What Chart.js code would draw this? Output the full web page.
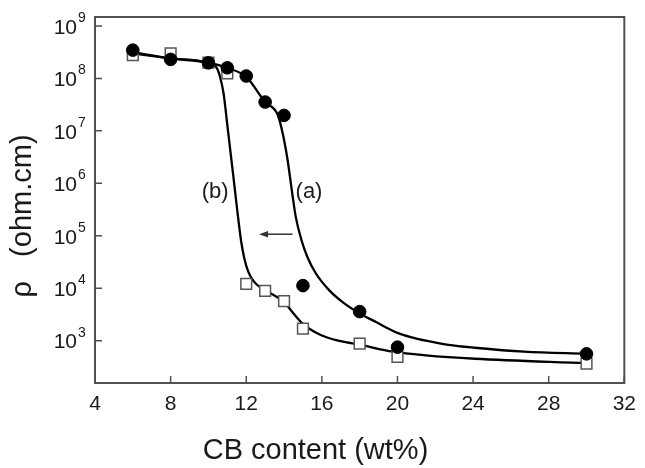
<!DOCTYPE html>
<html><head><meta charset="utf-8">
<script src="https://cdn.jsdelivr.net/npm/chart.js@4.4.1/dist/chart.umd.min.js"></script>
<style>html,body{margin:0;padding:0;background:#fff}#wrap{width:645px;height:468px}</style>
</head><body><div id="wrap"><canvas id="c" width="645" height="468"></canvas></div>
<script>
// ---- data ----
const cbContent = [6, 8, 10, 11, 12, 13, 14, 15, 18, 20, 30];
const rhoA = [3.46e8, 2.3e8, 1.98e8, 1.59e8, 1.11e8, 3.54e7, 1.97e7, 1.12e4, 3.58e3, 752, 561];
const rhoB = [2.78e8, 3.0e8, 2.0e8, 1.25e8, 1.21e4, 8.9e3, 5.7e3, 1.70e3, 881, 491, 366];

// fitted curves
const fitAX = [6, 8, 10, 11, 12, 13, 13.67, 13.93, 14.19, 14.41, 14.62, 14.92, 15.23, 15.67, 16.37, 17.15, 18, 18.89, 19.4, 20, 20.7, 21.5, 22.7, 24.1, 26.7, 30];
const fitAY = [3.16e8, 2.4e8, 2.0e8, 1.58e8, 1.07e8, 3.55e7, 2.0e7, 8.9e6, 2.75e6, 7.4e5, 2.29e5, 8.3e4, 3.98e4, 1.95e4, 9.3e3, 5.25e3, 3.31e3, 2.24e3, 1.78e3, 1.41e3, 1.17e3, 1.0e3, 832, 733, 617, 561];
const fitBX = [6, 8, 10, 10.44, 10.62, 10.8, 11.02, 11.28, 11.52, 11.72, 11.9, 12.1, 12.4, 12.8, 13.4, 14.0, 14.5, 15.0, 15.6, 16.28, 17.0, 18.02, 19.76, 21.5, 24.1, 30];
const fitBY = [3.0e8, 2.4e8, 1.95e8, 1.58e8, 1.05e8, 5.2e7, 1.12e7, 1.78e6, 3.16e5, 8.3e4, 3.7e4, 2.1e4, 1.35e4, 1.0e4, 7.6e3, 5.5e3, 3.3e3, 2.09e3, 1.48e3, 1.15e3, 977, 832, 617, 525, 452, 372];

const xTickValues = [4, 8, 12, 16, 20, 24, 28, 32];
const yTickExponents = [3, 4, 5, 6, 7, 8, 9];
const curveLabels = ['(a)', '(b)'];
const curveLabelX = [15.32, 10.36];
const curveLabelY = [6.9e5, 6.9e5];
const arrowX = [14.45, 12.68];
const arrowY = [1.07e5, 1.07e5];
const xTitle = 'CB content (wt%)';
const yTitle = 'ρ   (ohm.cm)';

const FONT = "'Liberation Sans', Arial, sans-serif";
const AXIS = '#505050';
const TXT = '#1a1a1a';

function pts(xs, ys) { return xs.map((x, i) => ({x: x, y: ys[i]})); }

const decor = {
  id: 'decor',
  afterDatasetsDraw(chart) {
    const ctx = chart.ctx, xs = chart.scales.x, ys = chart.scales.y;
    ctx.save();
    const x1 = xs.getPixelForValue(arrowX[0]), x2 = xs.getPixelForValue(arrowX[1]);
    const y1 = ys.getPixelForValue(arrowY[0]);
    ctx.strokeStyle = '#333'; ctx.fillStyle = '#333'; ctx.lineWidth = 1.5;
    ctx.beginPath(); ctx.moveTo(x1, y1); ctx.lineTo(x2 + 6, y1); ctx.stroke();
    ctx.beginPath(); ctx.moveTo(x2, y1); ctx.lineTo(x2 + 9, y1 - 3.2); ctx.lineTo(x2 + 9, y1 + 3.2); ctx.closePath(); ctx.fill();
    ctx.font = '22px ' + FONT; ctx.fillStyle = TXT; ctx.textAlign = 'center'; ctx.textBaseline = 'middle';
    curveLabels.forEach((t, i) => ctx.fillText(t, xs.getPixelForValue(curveLabelX[i]), ys.getPixelForValue(curveLabelY[i])));
    ctx.restore();
  },
  afterDraw(chart) {
    const ctx = chart.ctx, xs = chart.scales.x, ys = chart.scales.y, a = chart.chartArea;
    ctx.save();
    ctx.strokeStyle = AXIS; ctx.lineWidth = 2;
    ctx.strokeRect(a.left, a.top, a.right - a.left, a.bottom - a.top);
    ctx.lineWidth = 1.5;
    ctx.beginPath();
    xTickValues.forEach(v => { const px = xs.getPixelForValue(v); ctx.moveTo(px, a.bottom); ctx.lineTo(px, a.bottom - 7); });
    yTickExponents.forEach(e => { const py = ys.getPixelForValue(Math.pow(10, e)); ctx.moveTo(a.left, py); ctx.lineTo(a.left + 7, py); });
    ctx.stroke();
    ctx.fillStyle = TXT; ctx.textBaseline = 'middle';
    yTickExponents.forEach(e => {
      const py = ys.getPixelForValue(Math.pow(10, e));
      ctx.font = '21px ' + FONT; ctx.textAlign = 'right';
      ctx.fillText('10', a.left - 18, py + 2);
      ctx.font = '14px ' + FONT; ctx.textAlign = 'left';
      ctx.fillText(String(e), a.left - 17, py - 8);
    });
    ctx.font = '29px ' + FONT; ctx.textAlign = 'center';
    ctx.translate(23, (a.top + a.bottom) / 2 + 16);
    ctx.rotate(-Math.PI / 2);
    ctx.fillText(yTitle, 0, 0);
    ctx.restore();
  }
};

new Chart(document.getElementById('c'), {
  type: 'scatter',
  data: {
    datasets: [
      {label: '(a)', data: pts(cbContent, rhoA), showLine: false, pointStyle: 'circle', pointRadius: 6.3, pointBackgroundColor: '#000', pointBorderColor: '#000', pointBorderWidth: 1},
      {label: '(b)', data: pts(cbContent, rhoB), showLine: false, pointStyle: 'rect', pointRadius: 7.6, pointBackgroundColor: '#fff', pointBorderColor: '#555', pointBorderWidth: 1.5},
      {label: 'fit a', data: pts(fitAX, fitAY), showLine: true, pointRadius: 0, borderColor: '#000', borderWidth: 2.3, cubicInterpolationMode: 'monotone'},
      {label: 'fit b', data: pts(fitBX, fitBY), showLine: true, pointRadius: 0, borderColor: '#000', borderWidth: 2.3, cubicInterpolationMode: 'monotone'}
    ]
  },
  options: {
    responsive: false, animation: false, devicePixelRatio: 1,
    layout: {padding: {left: 0, right: 14, top: 17, bottom: 0}},
    plugins: {
      legend: {display: false}, tooltip: {enabled: false},
      title: {display: true, position: 'bottom', text: xTitle, color: TXT, font: {family: FONT, size: 29, weight: 'normal'}, padding: {top: 0, bottom: 0}}
    },
    scales: {
      x: {
        type: 'linear', min: 4, max: 32,
        afterBuildTicks: s => { s.ticks = xTickValues.map(v => ({value: v})); },
        ticks: {color: TXT, font: {family: FONT, size: 21}, padding: 9, maxRotation: 0},
        grid: {display: false, drawTicks: false}, border: {display: false},
        afterFit: s => { s.height = 50.2; }
      },
      y: {
        type: 'logarithmic', min: 156, max: 1.48e9,
        afterBuildTicks: s => { s.ticks = yTickExponents.map(e => ({value: Math.pow(10, e)})); },
        ticks: {callback: () => '', padding: 0},
        grid: {display: false, drawTicks: false}, border: {display: false},
        afterFit: s => { s.width = 95; }
      }
    }
  },
  plugins: [decor]
});
</script></body></html>
